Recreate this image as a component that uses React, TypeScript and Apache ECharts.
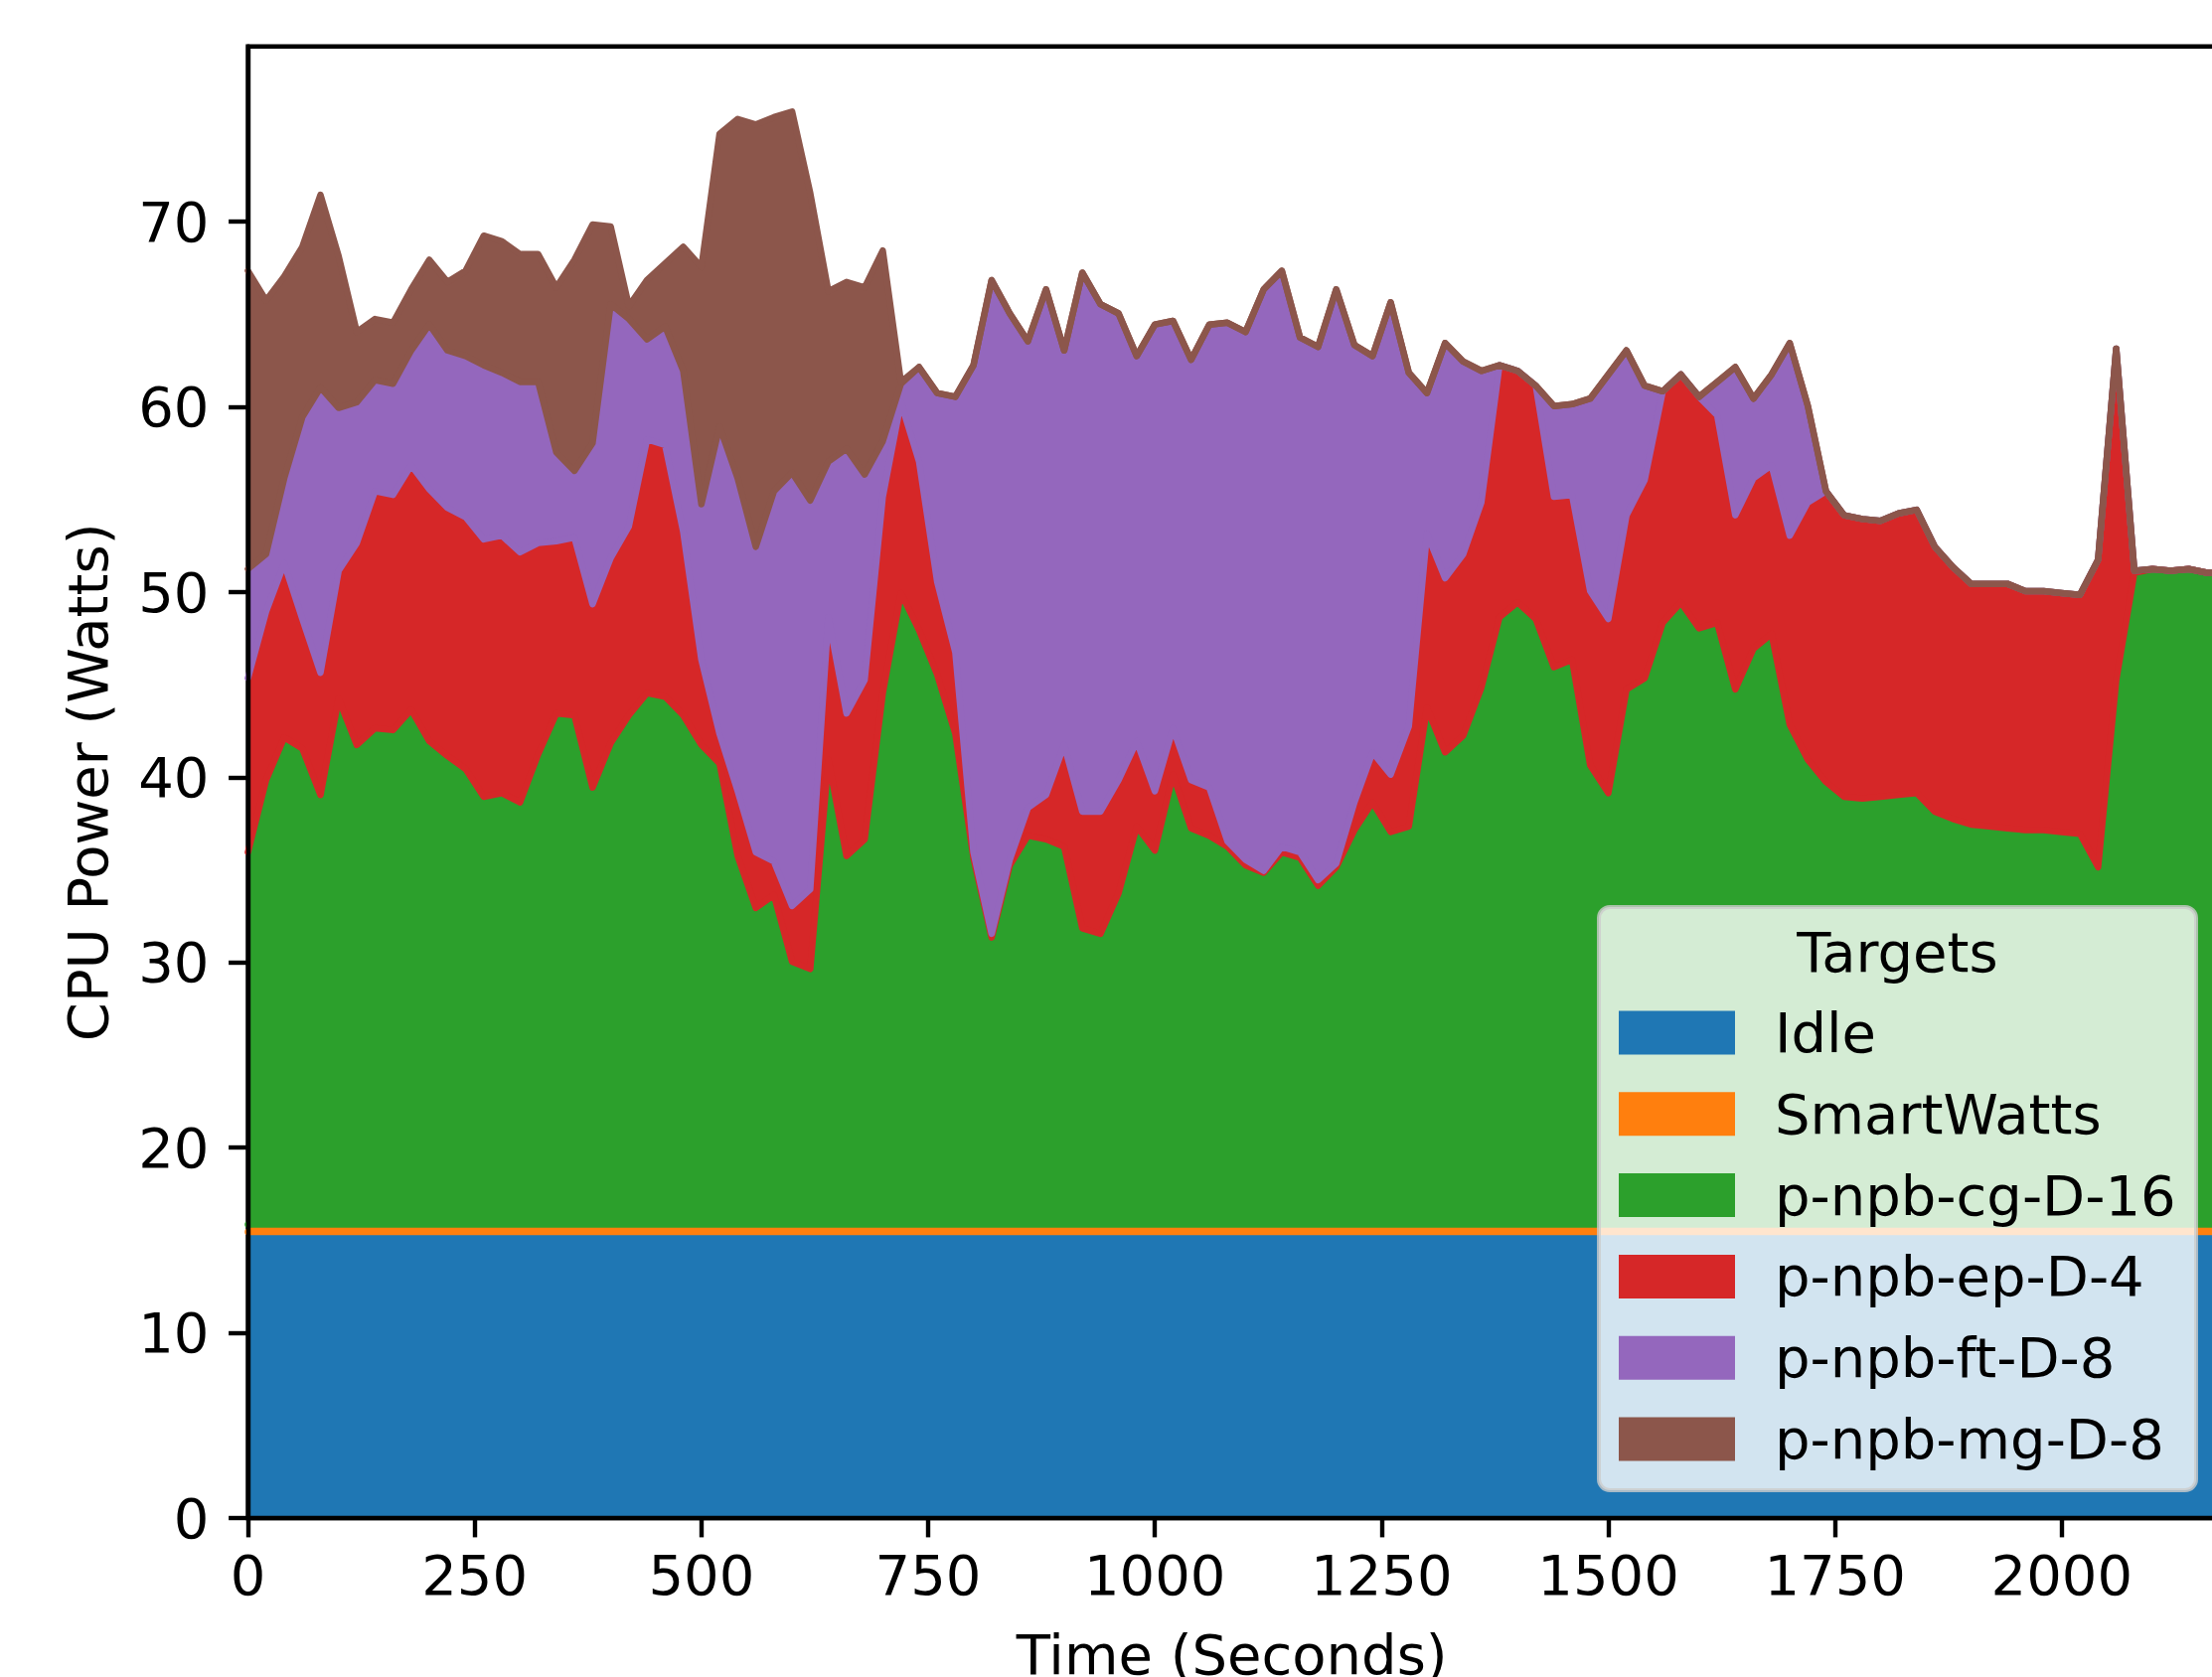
import React, { useEffect, useRef } from 'react';
import * as echarts from 'echarts';

// Time samples (seconds)
const times = [
  0, 20, 40, 60, 80, 100, 120, 140, 160, 180,
  200, 220, 240, 260, 280, 300, 320, 340, 360, 380,
  400, 420, 440, 460, 480, 500, 520, 540, 560, 580,
  600, 620, 640, 660, 680, 700, 720, 740, 760, 780,
  800, 820, 840, 860, 880, 900, 920, 940, 960, 980,
  1000, 1020, 1040, 1060, 1080, 1100, 1120, 1140, 1160, 1180,
  1200, 1220, 1240, 1260, 1280, 1300, 1320, 1340, 1360, 1380,
  1400, 1420, 1440, 1460, 1480, 1500, 1520, 1540, 1560, 1580,
  1600, 1620, 1640, 1660, 1680, 1700, 1720, 1740, 1760, 1780,
  1800, 1820, 1840, 1860, 1880, 1900, 1920, 1940, 1960, 1980,
  2000, 2020, 2040, 2060, 2080, 2100, 2120, 2140, 2160, 2170,
];

const idle = [
  15.45, 15.45, 15.45, 15.45, 15.45, 15.45, 15.45, 15.45, 15.45, 15.45,
  15.45, 15.45, 15.45, 15.45, 15.45, 15.45, 15.45, 15.45, 15.45, 15.45,
  15.45, 15.45, 15.45, 15.45, 15.45, 15.45, 15.45, 15.45, 15.45, 15.45,
  15.45, 15.45, 15.45, 15.45, 15.45, 15.45, 15.45, 15.45, 15.45, 15.45,
  15.45, 15.45, 15.45, 15.45, 15.45, 15.45, 15.45, 15.45, 15.45, 15.45,
  15.45, 15.45, 15.45, 15.45, 15.45, 15.45, 15.45, 15.45, 15.45, 15.45,
  15.45, 15.45, 15.45, 15.45, 15.45, 15.45, 15.45, 15.45, 15.45, 15.45,
  15.45, 15.45, 15.45, 15.45, 15.45, 15.45, 15.45, 15.45, 15.45, 15.45,
  15.45, 15.45, 15.45, 15.45, 15.45, 15.45, 15.45, 15.45, 15.45, 15.45,
  15.45, 15.45, 15.45, 15.45, 15.45, 15.45, 15.45, 15.45, 15.45, 15.45,
  15.45, 15.45, 15.45, 15.45, 15.45, 15.45, 15.45, 15.45, 15.45, 15.45,
];

const smartWatts = [
  0.4, 0.4, 0.4, 0.4, 0.4, 0.4, 0.4, 0.4, 0.4, 0.4,
  0.4, 0.4, 0.4, 0.4, 0.4, 0.4, 0.4, 0.4, 0.4, 0.4,
  0.4, 0.4, 0.4, 0.4, 0.4, 0.4, 0.4, 0.4, 0.4, 0.4,
  0.4, 0.4, 0.4, 0.4, 0.4, 0.4, 0.4, 0.4, 0.4, 0.4,
  0.4, 0.4, 0.4, 0.4, 0.4, 0.4, 0.4, 0.4, 0.4, 0.4,
  0.4, 0.4, 0.4, 0.4, 0.4, 0.4, 0.4, 0.4, 0.4, 0.4,
  0.4, 0.4, 0.4, 0.4, 0.4, 0.4, 0.4, 0.4, 0.4, 0.4,
  0.4, 0.4, 0.4, 0.4, 0.4, 0.4, 0.4, 0.4, 0.4, 0.4,
  0.4, 0.4, 0.4, 0.4, 0.4, 0.4, 0.4, 0.4, 0.4, 0.4,
  0.4, 0.4, 0.4, 0.4, 0.4, 0.4, 0.4, 0.4, 0.4, 0.4,
  0.4, 0.4, 0.4, 0.4, 0.4, 0.4, 0.4, 0.4, 0.4, 0.4,
];

const cgD16 = [
  20.1, 24.0, 26.3, 25.7, 23.2, 28.4, 25.9, 26.8, 26.7, 27.8,
  26.1, 25.3, 24.6, 23.1, 23.3, 22.8, 25.4, 27.6, 27.5, 23.6,
  26.0, 27.5, 28.7, 28.5, 27.5, 25.9, 24.9, 19.9, 17.1, 17.8,
  14.2, 13.8, 25.1, 19.9, 20.8, 28.7, 34.1, 32.1, 29.7, 26.5,
  19.8, 15.5, 19.4, 21.0, 20.8, 20.4, 16.0, 15.7, 17.9, 21.5,
  20.2, 24.3, 21.4, 21.0, 20.4, 19.4, 19.0, 20.1, 19.8, 18.3,
  19.3, 21.3, 22.8, 21.2, 21.5, 27.9, 25.5, 26.4, 29.0, 32.8,
  33.6, 32.7, 30.1, 30.5, 24.8, 23.3, 28.9, 29.5, 32.5, 33.6,
  32.2, 32.5, 28.9, 31.1, 31.9, 27.0, 25.1, 23.9, 23.1, 23.0,
  23.1, 23.2, 23.3, 22.3, 21.9, 21.6, 21.5, 21.4, 21.3, 21.3,
  21.2, 21.1, 19.3, 29.4, 35.2, 35.4, 35.3, 35.4, 35.2, 35.2,
];

const epD4 = [
  9.4, 9.1, 9.4, 7.0, 6.6, 6.9, 10.9, 12.8, 12.7, 13.2,
  13.6, 13.4, 13.6, 13.9, 13.9, 13.5, 11.4, 9.3, 9.6, 9.9,
  10.0, 10.2, 13.7, 13.6, 9.9, 4.6, 1.6, 3.5, 3.0, 1.8,
  3.0, 4.3, 7.7, 7.7, 8.6, 10.6, 10.3, 9.1, 5.0, 4.4,
  0.3, 0.2, 0.3, 1.5, 2.4, 5.5, 6.3, 6.6, 6.1, 4.6,
  3.2, 2.5, 2.6, 2.6, 0.3, 0.3, 0.1, 0.3, 0.3, 0.3,
  0.2, 1.5, 2.7, 3.1, 5.4, 9.4, 9.4, 9.8, 10.0, 13.6,
  12.5, 12.6, 9.2, 8.9, 9.4, 9.4, 9.4, 10.7, 12.5, 12.3,
  12.5, 11.2, 9.4, 9.2, 9.1, 10.2, 13.9, 15.7, 15.2, 15.1,
  14.9, 15.2, 15.3, 14.3, 13.6, 13.0, 13.1, 13.2, 12.9, 12.9,
  12.9, 12.9, 16.6, 17.9, 0.1, 0, 0, 0, 0, 0,
];

const ftD8 = [
  5.9, 3.1, 4.6, 10.9, 15.4, 8.8, 7.6, 6.0, 6.0, 6.2,
  8.9, 8.5, 8.7, 9.4, 8.8, 9.2, 8.7, 4.8, 3.6, 8.7,
  13.7, 11.2, 5.4, 6.4, 8.7, 8.4, 16.6, 16.9, 16.5, 20.0,
  23.4, 21.0, 8.4, 14.3, 11.1, 3.0, 1.0, 5.1, 10.2, 13.8,
  26.3, 35.3, 29.5, 25.2, 27.3, 21.3, 29.1, 27.4, 25.2, 20.8,
  25.2, 22.0, 22.7, 25.0, 28.0, 28.5, 31.4, 31.1, 27.8, 28.8,
  31.0, 24.7, 21.4, 25.5, 19.1, 7.6, 12.7, 10.4, 7.1, 0,
  0, 0, 4.9, 4.9, 10.4, 13.2, 8.9, 5.1, 0, 0,
  0, 1.8, 8.0, 4.3, 4.9, 10.4, 5.2, 0, 0, 0,
  0, 0, 0, 0, 0, 0, 0, 0, 0, 0,
  0, 0, 0, 0, 0, 0, 0, 0, 0, 0,
];

const mgD8 = [
  16.1, 13.7, 10.9, 9.2, 10.4, 8.2, 3.8, 3.3, 3.3, 3.3,
  3.5, 3.7, 4.6, 7.0, 7.1, 6.9, 6.9, 8.9, 11.4, 11.8,
  4.2, 0.7, 3.2, 3.4, 6.7, 12.8, 15.8, 19.4, 22.8, 20.2,
  19.5, 16.6, 9.2, 9.0, 10.1, 10.3, 0.1, 0, 0, 0,
  0, 0, 0, 0, 0, 0, 0, 0, 0, 0,
  0, 0, 0, 0, 0, 0, 0, 0, 0, 0,
  0, 0, 0, 0, 0, 0, 0, 0, 0, 0,
  0, 0, 0, 0, 0, 0, 0, 0, 0, 0,
  0, 0, 0, 0, 0, 0, 0, 0, 0, 0,
  0, 0, 0, 0, 0, 0, 0, 0, 0, 0,
  0, 0, 0, 0, 0, 0, 0, 0, 0, 0,
];

const seriesNames = ['Idle', 'SmartWatts', 'p-npb-cg-D-16', 'p-npb-ep-D-4', 'p-npb-ft-D-8', 'p-npb-mg-D-8'];
const seriesColors = ['#1f77b4', '#ff7f0e', '#2ca02c', '#d62728', '#9467bd', '#8c564b'];
const seriesValues = [idle, smartWatts, cgD16, epD4, ftD8, mgD8];

const xTicks = [0, 250, 500, 750, 1000, 1250, 1500, 1750, 2000];
const yTicks = [0, 10, 20, 30, 40, 50, 60, 70];

const legendTitle = 'Targets';
const xAxisTitle = 'Time (Seconds)';
const yAxisTitle = 'CPU Power (Watts)';

const FONT = '"DejaVu Sans", sans-serif';

export default function App() {
  const ref = useRef<HTMLDivElement>(null);

  useEffect(() => {
    if (!ref.current) return;
    const chart = echarts.init(ref.current, null, { renderer: 'svg' });

    // cumulative tops of each stacked layer
    const cumulative: number[][] = [];
    seriesValues.forEach((vals, k) => {
      cumulative.push(vals.map((v, i) => (k === 0 ? 0 : cumulative[k - 1][i]) + v));
    });

    // filled areas: drawn top layer first, each filling down to 0
    const areaSeries = seriesNames
      .map((name, k) => ({
        name,
        type: 'line',
        symbol: 'none',
        showSymbol: false,
        silent: true,
        z: 2,
        emphasis: { disabled: true },
        lineStyle: { color: seriesColors[k], width: 0 },
        itemStyle: { color: seriesColors[k] },
        areaStyle: { color: seriesColors[k], opacity: 1 },
        data: times.map((t, i) => [t, cumulative[k][i]]),
      }))
      .reverse();

    // edge lines of each layer (the layer above paints over the boundary)
    const edgeSeries = seriesNames.map((name, k) => ({
      id: 'edge-' + k,
      name: 'edge-' + name,
      type: 'line',
      symbol: 'none',
      showSymbol: false,
      silent: true,
      z: 3,
      emphasis: { disabled: true },
      lineStyle: { color: seriesColors[Math.min(k + 1, seriesColors.length - 1)], width: 6.5, join: 'round', cap: 'round' },
      itemStyle: { color: seriesColors[Math.min(k + 1, seriesColors.length - 1)] },
      data: times.map((t, i) => [t, cumulative[k][i]]),
    }));

    const axisLine = { show: true, lineStyle: { color: '#000', width: 4.4 } };
    const axisTick = { show: true, inside: false, length: 19.4, lineStyle: { color: '#000', width: 4.4 } };

    const option = {
      animation: false,
      backgroundColor: '#ffffff',
      textStyle: { fontFamily: FONT },
      grid: {
        left: 249.5,
        top: 46.7,
        right: -4,
        bottom: 160,
        show: true,
        borderColor: '#000',
        borderWidth: 4.4,
        backgroundColor: 'transparent',
        containLabel: false,
        outerBoundsMode: 'none',
      },
      xAxis: {
        type: 'value',
        min: 0,
        max: 2170,
        z: 10,
        axisLine,
        axisTick: { ...axisTick, customValues: xTicks },
        splitLine: { show: false },
        axisLabel: {
          customValues: xTicks,
          formatter: (v: number) => String(v),
          fontSize: 56,
          fontFamily: FONT,
          color: '#000',
          margin: 29,
        },
        name: xAxisTitle,
        nameLocation: 'middle',
        nameGap: 109,
        nameTextStyle: { fontSize: 56, fontFamily: FONT, color: '#000' },
      },
      yAxis: {
        type: 'value',
        min: 0,
        max: 79.47,
        z: 10,
        axisLine,
        axisTick: { ...axisTick, customValues: yTicks },
        splitLine: { show: false },
        axisLabel: {
          customValues: yTicks,
          formatter: (v: number) => String(v),
          fontSize: 56,
          fontFamily: FONT,
          color: '#000',
          margin: 39,
        },
        name: yAxisTitle,
        nameLocation: 'middle',
        nameGap: 133,
        nameRotate: 90,
        nameTextStyle: { fontSize: 56, fontFamily: FONT, color: '#000' },
      },
      legend: {
        show: true,
        orient: 'vertical',
        left: 1629,
        top: 1011.5,
        padding: 0,
        itemWidth: 117,
        itemHeight: 44,
        itemGap: 25.8,
        icon: 'rect',
        selectedMode: false,
        z: 200,
        itemStyle: { borderWidth: 0 },
        textStyle: {
          fontSize: 56,
          fontFamily: FONT,
          color: '#000',
          lineHeight: 56,
          padding: [0, 0, 0, 35],
        },
        data: seriesNames,
      },
      graphic: {
        elements: [
          {
            type: 'rect',
            z: 100,
            silent: true,
            shape: { x: 1609, y: 913, width: 601, height: 587, r: 11 },
            style: { fill: 'rgba(255,255,255,0.8)', stroke: 'rgba(204,204,204,0.8)', lineWidth: 4 },
          },
          {
            type: 'text',
            z: 150,
            silent: true,
            x: 1909.5,
            y: 958,
            style: {
              text: legendTitle,
              fontSize: 56,
              fontFamily: FONT,
              fill: '#000',
              align: 'center',
              verticalAlign: 'middle',
            },
          },
        ],
      },
      series: [...areaSeries, ...edgeSeries],
    };

    chart.setOption(option as any);
    return () => chart.dispose();
  }, []);

  return (
    <div
      ref={ref}
      style={{ position: 'absolute', left: 0, top: 0, width: 2226, height: 1688, background: '#fff' }}
    />
  );
}
